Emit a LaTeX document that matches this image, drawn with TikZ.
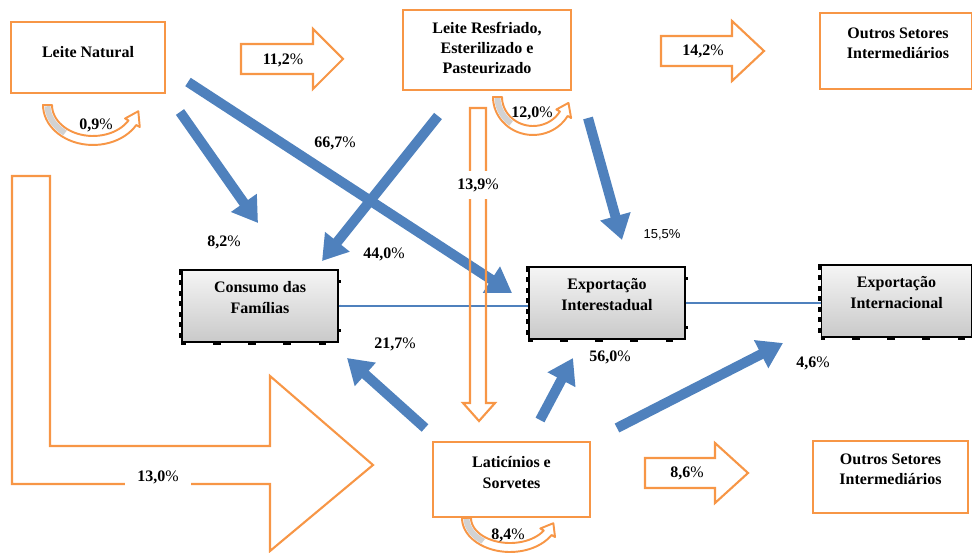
\documentclass[tikz,border=0pt]{standalone}
\usepackage{fontspec}
\setmainfont{Liberation Serif}
\newfontfamily\smallsans{Liberation Sans}
\usetikzlibrary{arrows.meta,positioning}
\definecolor{boxorange}{HTML}{F79646}
\definecolor{flowblue}{HTML}{4F81BD}
\tikzset{
	orangebox/.style={draw=boxorange, line width=1.2pt, fill=white, inner sep=0pt},
	famtext/.style={font=\fontsize{9.1}{11.6}\selectfont\bfseries, align=center, inner sep=0pt},
	graybox/.style={draw=black, line width=0.6pt, top color=gray!8, bottom color=gray!42, inner sep=0pt},
	sidedash/.style={line width=1.6pt, dash pattern=on 3pt off 3pt},
	bottomdash/.style={line width=1.6pt, dash pattern=on 4.5pt off 15.5pt, dash phase=2pt},
	righttick/.style={line width=1.6pt, dash pattern=on 1.5pt off 12.5pt, dash phase=8pt},
	orangearrow/.style={draw=boxorange, line width=1.2pt, line join=miter},
	flow/.style={flowblue, line width=5.7pt, -{Triangle[length=14pt, width=17pt]}},
	thinflow/.style={flowblue, line width=0.6pt},
	pct/.style={font=\fontsize{9.1}{11}\selectfont, inner sep=1pt},
}
% curved arrow below a box: centre x, centre y, x radius, y radius
\newcommand{\selfloop}[4]{%
	\filldraw[draw=boxorange, line width=1.1pt, fill=white, line join=round]
		plot[domain=180:30, samples=30] ({#1+#3*cos(\x)}, {#2+#4*sin(\x)})
		-- ({#1+(#3+4)*cos(30)}, {#2+(#4+4)*sin(30)})
		-- ({#1+(#3-4)*cos(10)}, {#2+(#4-4)*sin(10)})
		-- ({#1+(#3-13)*cos(30)}, {#2+(#4-13)*sin(30)})
		-- plot[domain=30:180, samples=30] ({#1+(#3-9)*cos(\x)}, {#2+(#4-9)*sin(\x)})
		-- cycle;
	\fill[gray!35]
		plot[domain=178:128, samples=15] ({#1+(#3-1.5)*cos(\x)}, {#2+(#4-1.5)*sin(\x)})
		-- plot[domain=128:178, samples=15] ({#1+(#3-7.5)*cos(\x)}, {#2+(#4-7.5)*sin(\x)})
		-- cycle;
}
% block arrow to the right: left x, head x, tip x, middle y
\newcommand{\rightblock}[4]{%
	\filldraw[orangearrow, fill=white] (#1,#4-15) -- (#2,#4-15) -- (#2,#4-30) -- (#3,#4)
		-- (#2,#4+30) -- (#2,#4+15) -- (#1,#4+15) -- cycle;
}

\begin{document}
\begin{tikzpicture}[x=0.02cm, y=-0.02cm]
	\useasboundingbox (0,0) rectangle (972,553);
	
	% big L arrow and down arrow
	\draw[orangearrow] (12,176) -- (50,176) -- (50,446) -- (270,446) -- (270,376) -- (373,465)
		-- (270,551) -- (270,484) -- (12,484) -- cycle;
	\node[pct, fill=white, inner xsep=7pt, inner ysep=3pt] (p130) at (158,477) {\textbf{13,0}\%};
	
	% sector boxes
	\node[orangebox, minimum width=3.08cm, minimum height=1.42cm] (natural) at (88,57.5) {};
	\node[famtext] (natural-t) at (88,52) {Leite Natural};
	\node[orangebox, minimum width=3.36cm, minimum height=1.6cm] (resfriado) at (487,50) {};
	\node[famtext] (resfriado-t) at (487,48) {Leite Resfriado,\\Esterilizado e\\Pasteurizado};
	\node[orangebox, minimum width=3.04cm, minimum height=1.52cm] (outros1) at (896,51) {};
	\node[famtext] (outros1-t) at (898,43.5) {Outros Setores\\Intermediários};
	\node[orangebox, minimum width=3.14cm, minimum height=1.5cm] (laticinios) at (511.5,479.5) {};
	\node[famtext] (laticinios-t) at (511.5,472.5) {Laticínios e\\Sorvetes};
	\node[orangebox, minimum width=3.1cm, minimum height=1.44cm] (outros2) at (890.5,477) {};
	\node[famtext] (outros2-t) at (890.5,469) {Outros Setores\\Intermediários};
	
	% final demand boxes
	\node[graybox, minimum width=3.12cm, minimum height=1.44cm] (consumo) at (260,306) {};
	\node[famtext] (consumo-t) at (260,297.5) {Consumo das\\Famílias};
	\node[graybox, minimum width=3.12cm, minimum height=1.44cm] (interest) at (607,303) {};
	\node[famtext] (interest-t) at (607,294.5) {Exportação\\Interestadual};
	\node[graybox, minimum width=3.02cm, minimum height=1.44cm] (internac) at (896.5,301) {};
	\node[famtext] (internac-t) at (896.5,292.5) {Exportação\\Internacional};
	\foreach \b in {consumo,interest,internac}{
		\draw[sidedash] ([xshift=-0.5pt]\b.north west) -- ([xshift=-0.5pt]\b.south west);
		\draw[bottomdash] ([yshift=-0.5pt]\b.south west) -- ([yshift=-0.5pt]\b.south east);
	}
	\foreach \b in {consumo,interest}{
		\draw[righttick] ([xshift=0.5pt]\b.north east) -- ([xshift=0.5pt]\b.south east);
	}
	\draw[thinflow] (consumo.east) -- (consumo.east -| interest.west);
	\draw[thinflow] (interest.east) -- (interest.east -| internac.west);
	
	% blue flows
	\coordinate (f1s) at (180,112); \coordinate (f1e) at (258,223);
	\coordinate (f2s) at (188,82);  \coordinate (f2e) at (512,293);
	\coordinate (f3s) at (438,116); \coordinate (f3e) at (322,261);
	\coordinate (f4s) at (588,118); \coordinate (f4e) at (622,240);
	\coordinate (f5s) at (425,428); \coordinate (f5e) at (347,358);
	\coordinate (f6s) at (540,420); \coordinate (f6e) at (573,358);
	\coordinate (f7s) at (617,428); \coordinate (f7e) at (783,343);
	\foreach \f in {1,...,7}{
		\draw[flow] (f\f s) -- (f\f e);
	}
	
	% down arrow from resfriado to laticinios
	\draw[orangearrow] (470,108) -- (486,108) -- (486,403) -- (495,403) -- (479,421) -- (463,403)
		-- (470,403) -- cycle;
	\node[pct, fill=white, inner xsep=2pt, inner ysep=4pt] (p139) at (478,185) {\textbf{13,9}\%};
	
	% block arrows to other sectors
	\rightblock{241}{313}{343}{59}
	\node[pct] (p112) at (283,60) {\textbf{11,2}\%};
	\rightblock{661}{732}{764}{51}
	\node[pct] (p142) at (703,51) {\textbf{14,2}\%};
	\rightblock{645}{715}{748}{473}
	\node[pct] (p86) at (687,473) {\textbf{8,6}\%};
	
	% own consumption loops
	\selfloop{93}{105}{50}{40}
	\node[pct] (p09) at (96,125) {\textbf{0,9}\%};
	\selfloop{533}{97}{40}{38}
	\node[pct] (p120) at (532,113) {\textbf{12,0}\%};
	\selfloop{510}{518}{48}{34}
	\node[pct] (p84) at (508,535) {\textbf{8,4}\%};
	
	% flow shares
	\node[pct] (p82) at (224,242) {\textbf{8,2}\%};
	\node[pct] (p667) at (335,143) {\textbf{66,7}\%};
	\node[pct] (p440) at (384,254) {\textbf{44,0}\%};
	\node[font=\smallsans\fontsize{7.4}{9}\selectfont, inner sep=1pt] (p155) at (662,235) {15,5\%};
	\node[pct] (p217) at (395,344) {\textbf{21,7}\%};
	\node[pct] (p560) at (610,357) {\textbf{56,0}\%};
	\node[pct] (p46) at (813,363) {\textbf{4,6}\%};
\end{tikzpicture}
\end{document}
